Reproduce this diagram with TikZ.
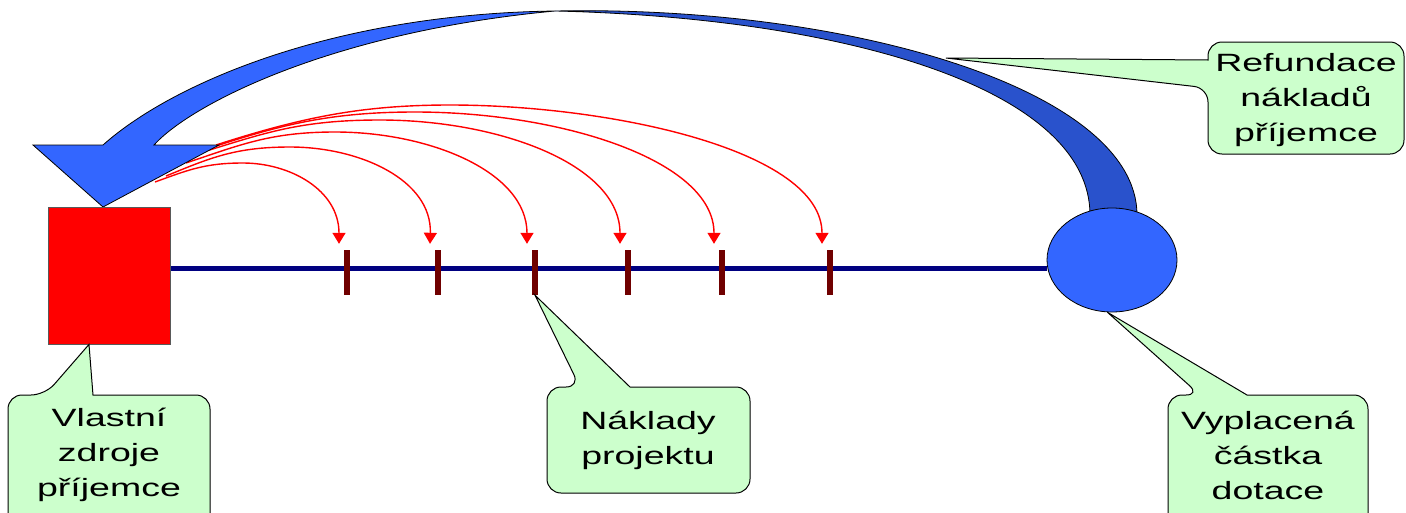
\documentclass[tikz,border=0pt]{standalone}
\usepackage{fontspec}
\setmainfont{Liberation Sans}
\newfontfamily\cfont[FakeStretch=1.5]{Liberation Sans}
\usetikzlibrary{arrows.meta,shapes.geometric,backgrounds}
\definecolor{arrowblue}{HTML}{3366FF}
\definecolor{arrowdark}{HTML}{2952CC}
\definecolor{tickred}{HTML}{700000}
\definecolor{callgreen}{HTML}{CCFFCC}
\definecolor{linenavy}{HTML}{000080}
\begin{document}
\begin{tikzpicture}[x=1pt,y=-1pt,
  calloutshape/.style={fill=callgreen, draw=black, line width=1pt},
  callouttext/.style={font=\cfont\fontsize{25}{35}\selectfont, align=center, text=black, inner sep=0pt},
  tickmark/.style={fill=tickred, draw=none, minimum width=6pt, minimum height=45pt, inner sep=0pt},
  redarrow/.style={draw=red, line width=1.4pt, -{Triangle[width=13pt,length=11pt]}},
  blueshape/.style={draw=black, line width=0.8pt}]
\useasboundingbox (0,0) rectangle (1406,512);
\clip (0,0) rectangle (1406,512);

% main nodes
\coordinate (lineref) at (0,268);
\node[draw=gray!70!black, line width=0.8pt, fill=red, minimum width=122pt, minimum height=137pt, inner sep=0pt] (src) at (109,275.5) {};
\node[ellipse, draw=black, line width=0.8pt, fill=arrowblue, minimum width=130pt, minimum height=104pt, inner sep=0pt] (pay) at (1112,260) {};

% ticks
\foreach \i/\x in {1/347,2/438,3/535,4/628,5/722,6/830}{
  \node[tickmark] (t\i) at (\x,272.5) {};
  \coordinate (e\i) at ([xshift=-8pt,yshift=6pt]t\i.north);
}

\coordinate (s1) at (155,182);
\coordinate (s2) at (166,176);
\coordinate (s3) at (186,163);
\coordinate (s4) at (203,152);
\coordinate (s5) at (210,148);
\coordinate (s6) at (216,145);
\coordinate (reftip) at (946,58);

\begin{scope}[on background layer]
% main line
\draw[linenavy, line width=5pt] (src.east |- lineref) -- (pay.west |- lineref);
% red arrows
\draw[redarrow] (s1) .. controls (188,170) and (205,163) .. (243,163) .. controls (290,163) and (339,190) .. (e1);
\draw[redarrow] (s2) .. controls (210,158) and (235,147) .. (290,147) .. controls (360,147) and (432,180) .. (e2);
\draw[redarrow] (s3) .. controls (240,145) and (270,132) .. (335,132) .. controls (430,132) and (527,172) .. (e3);
\draw[redarrow] (s4) .. controls (265,133) and (300,120) .. (380,120) .. controls (500,120) and (620,165) .. (e4);
\draw[redarrow] (s5) .. controls (280,125) and (330,112) .. (415,112) .. controls (560,112) and (714,160) .. (e5);
\draw[redarrow] (s6) .. controls (300,118) and (360,105) .. (450,105) .. controls (610,105) and (822,150) .. (e6);
% big curved arrow
\draw[blueshape, fill=arrowdark] (555,11) .. controls (850,5) and (1137,90) .. (1137,215) -- (1090,215) .. controls (1090,90) and (850,18) .. (555,11) -- cycle;
\draw[blueshape, fill=arrowblue] (555,11) .. controls (330,14) and (170,85) .. (103,145) -- (33,145) -- (103,207) -- (219,145) -- (154,145) .. controls (190,105) and (330,32) .. (555,11) -- cycle;
\end{scope}

% callouts
\draw[calloutshape] (109,530) [rounded corners=14pt] -- (8,530) -- (8,395) -- (45,395) [sharp corners] -- ([xshift=-20pt]src.south) -- (93,395) [rounded corners=14pt] -- (210,395) -- (210,530) -- cycle;
\node[callouttext] (own) at (109,455) {Vlastní\\zdroje\\příjemce};

\draw[calloutshape] (648,493) [rounded corners=14pt] -- (547,493) -- (547,387) -- (580,387) [sharp corners] -- (t3.south) -- (630,387) [rounded corners=14pt] -- (750,387) -- (750,493) -- cycle;
\node[callouttext] (costs) at (648,440) {Náklady\\projektu};

\draw[calloutshape] (1268,530) [rounded corners=14pt] -- (1168,530) -- (1168,395) -- (1200,395) [sharp corners] -- (pay.265) -- (1247,395) [rounded corners=14pt] -- (1368,395) -- (1368,530) -- cycle;
\node[callouttext] (paid) at (1268,455) {Vyplacená\\částka\\dotace};

\draw[calloutshape] (1306,154) [rounded corners=14pt] -- (1208,154) -- (1208,88) [sharp corners] -- (reftip) -- (1208,60) [rounded corners=14pt] -- (1208,42) -- (1404,42) -- (1404,154) -- cycle;
\node[callouttext] (refund) at (1306,100) {Refundace\\nákladů\\příjemce};
\end{tikzpicture}
\end{document}
